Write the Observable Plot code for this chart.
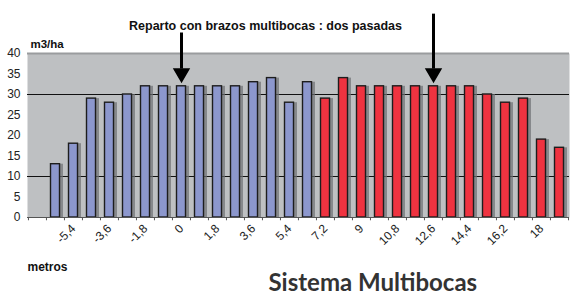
<!DOCTYPE html>
<html>
<head>
<meta charset="utf-8">
<script src="https://cdn.jsdelivr.net/npm/d3@7"></script>
<script src="https://cdn.jsdelivr.net/npm/@observablehq/plot@0.6"></script>
<style>
  html, body { margin: 0; padding: 0; background: #fff; }
  #chart svg { display: block; background: linear-gradient(#EDECE5 0, #EDECE5 8px, #fff 8px); }
</style>
</head>
<body>
<div id="chart"></div>
<script>
// ---- data ----
const distances = [-7.2, -6.3, -5.4, -4.5, -3.6, -2.7, -1.8, -0.9, 0, 0.9, 1.8, 2.7, 3.6, 4.5, 5.4, 6.3,
                   7.2, 8.1, 9, 9.9, 10.8, 11.7, 12.6, 13.5, 14.4, 15.3, 16.2, 17.1, 18, 18.9];
const firstPassX = [-6.3, -5.4, -4.5, -3.6, -2.7, -1.8, -0.9, 0, 0.9, 1.8, 2.7, 3.6, 4.5, 5.4, 6.3];
const firstPassValues = [13, 18, 29, 28, 30, 32, 32, 32, 32, 32, 32, 33, 34, 28, 33];
const secondPassX = [7.2, 8.1, 9, 9.9, 10.8, 11.7, 12.6, 13.5, 14.4, 15.3, 16.2, 17.1, 18, 18.9];
const secondPassValues = [29, 34, 32, 32, 32, 32, 32, 32, 32, 30, 28, 29, 19, 17];
const xTickValues = [-5.4, -3.6, -1.8, 0, 1.8, 3.6, 5.4, 7.2, 9, 10.8, 12.6, 14.4, 16.2, 18];
const yTickValues = [0, 5, 10, 15, 20, 25, 30, 35, 40];
const gridValues = [10, 30];
const arrowX = [0, 12.6];
const arrowTop = [45, 49.6];
const arrowTip = 35.2;

const title = "Reparto con brazos multibocas : dos pasadas";
const yLabel = "m3/ha";
const xLabel = "metros";
const caption = "Sistema Multibocas";

// ---- layout ----
const W = 573, H = 295, ML = 27, MR = 4, MT = 53, MB = 78;
const step = (W - ML - MR) / distances.length;

const bars = [
  ...firstPassX.map((x, i) => ({x, v: firstPassValues[i], c: "#8C97CD"})),
  ...secondPassX.map((x, i) => ({x, v: secondPassValues[i], c: "#EF3340"}))
];
const arrows = arrowX.map((x, i) => ({x, top: arrowTop[i]}));
const fmt = d => String(d).replace(".", ",");
const narrow = "'Liberation Sans Narrow', 'Arial Narrow', 'Liberation Sans', Arial, sans-serif";

const chart = Plot.plot({
  width: W, height: H,
  marginLeft: ML, marginRight: MR, marginTop: MT, marginBottom: MB,
  style: {fontFamily: "'Liberation Sans', Arial, sans-serif", fontSize: "12px", color: "#222", background: "transparent"},
  x: {type: "band", domain: distances, padding: 0, label: null, ticks: xTickValues, tickFormat: fmt,
      tickRotate: -45, tickSize: 0, tickPadding: 9},
  y: {domain: [0, 40], label: null, ticks: yTickValues, tickSize: 0, tickPadding: 7},
  marks: [
    Plot.frame({fill: "#BEC0C2", stroke: null}),
    Plot.ruleY([40], {stroke: "#9A9C9E", strokeWidth: 2}),
    Plot.ruleY(gridValues, {stroke: "#111", strokeWidth: 1}),
    // shadows
    Plot.barY(bars, {x: "x", y: "v", fill: "#6E7073", fillOpacity: 0.7, insetLeft: 5, insetRight: 3, dx: 2, dy: 0}),
    Plot.barY(bars, {x: "x", y: "v", fill: "c", stroke: "#1d1d1d", strokeWidth: 1.4, insetLeft: 4.5, insetRight: 4.5}),
    Plot.ruleY([0], {stroke: "#555", strokeWidth: 1}),
    Plot.ruleX(distances, {x: d => d, y1: 0, y2: -0.8, dx: -step / 2, stroke: "#555"}),
    Plot.ruleX([distances[distances.length - 1]], {x: d => d, y1: 0, y2: -0.8, dx: step / 2, stroke: "#555"}),
    // arrows
    Plot.ruleX(arrows, {x: "x", y1: "top", y2: arrowTip + 1, stroke: "#000", strokeWidth: 3}),
    Plot.dot(arrows, {x: "x", y: arrowTip, symbol: "triangle", rotate: 180, r: 5.5, fill: "#000", stroke: "#000"}),
    // texts
    Plot.text([title], {frameAnchor: "top-left", dx: 265 - ML, dy: 25 - MT, text: d => d, textAnchor: "middle", lineAnchor: "middle", fontWeight: "bold", fontSize: 12.5, fontFamily: narrow, fill: "#111"}),
    Plot.text([yLabel], {frameAnchor: "top-left", dx: 30 - ML, dy: 39 - MT, text: d => d, textAnchor: "start", lineAnchor: "top", fontWeight: "bold", fontSize: 11.5, fontFamily: narrow, fill: "#111"}),
    Plot.text([xLabel], {frameAnchor: "bottom-left", dx: 0, dy: 45, text: d => d, textAnchor: "start", lineAnchor: "top", fontWeight: "bold", fontSize: 12, fill: "#111"}),
    Plot.text([caption], {frameAnchor: "bottom-left", dx: 268 - ML, dy: 73, text: d => d, textAnchor: "start", lineAnchor: "bottom", fontWeight: "bold", fontSize: 24, fontFamily: "Lato, 'DejaVu Sans', sans-serif", fill: "#333"})
  ]
});
document.getElementById("chart").appendChild(chart);
</script>
</body>
</html>
